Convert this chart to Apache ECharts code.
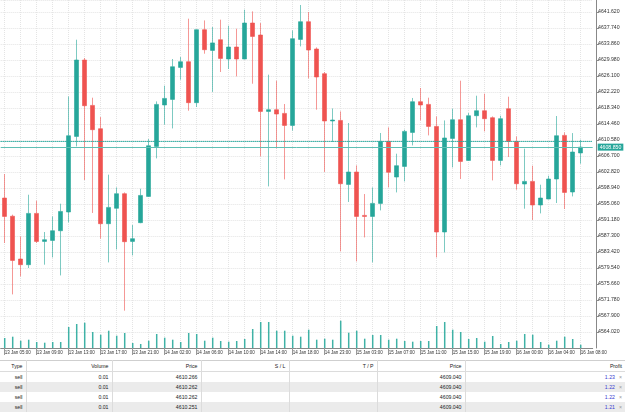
<!DOCTYPE html>
<html>
<head>
<meta charset="utf-8">
<script src="https://cdn.jsdelivr.net/npm/echarts@6/dist/echarts.min.js"></script>
<style>
body { margin: 0; background: #fff; font-family: 'Liberation Sans', Arial, sans-serif; }
#test0 { width: 625px; height: 360px; }
table { border-collapse: collapse; width: 625px; table-layout: fixed; font-size: 5.2px; color: #222; border-top: 1px solid #cfcfcf; }
td, th { padding: 0 3px 0 0; text-align: right; font-weight: normal; white-space: nowrap; overflow: hidden; border-left: 1px solid #dcdcdc; }
th { height: 10px; border-bottom: 1px solid #dcdcdc; }
td { height: 10px; }
td:first-child, th:first-child { border-left: none; }
tr.alt td { background: #ebebeb; }
.pf { color: #3b3bd0; }
.x { color: #999; margin-left: 4px; }
</style>
</head>
<body>
<div id="test0"></div>
<table id="orders"></table>
<script>
// 时间段: [日期, 开始小时, 结束小时]
var segments = [['13 Jan', 5, 23], ['14 Jan', 1, 21], ['14 Jan', 23, 23], ['15 Jan', 0, 22], ['16 Jan', 0, 8]];
var times = [];
segments.forEach(function (s) {
    for (var h = s[1]; h <= s[2]; h++) times.push(s[0] + ' ' + (h < 10 ? '0' : '') + h + ':00');
});

var open = [4596.51, 4592.10, 4581.72, 4580.34, 4592.78, 4585.99, 4586.23, 4588.58, 4593.12, 4611.45,
    4629.98, 4618.97, 4613.32, 4590.28, 4594.02, 4597.56, 4585.99, 4590.53, 4596.90, 4609.03,
    4619.07, 4620.43, 4628.19, 4629.57, 4619.63, 4637.33, 4632.31, 4634.90, 4630.22, 4633.13,
    4630.22, 4638.95, 4636.04, 4617.51, 4617.93, 4617.03, 4614.12, 4634.98, 4639.27, 4632.65,
    4626.66, 4615.19, 4615.33, 4599.81, 4602.82, 4592.30, 4592.05, 4595.21, 4610.24, 4601.60,
    4604.18, 4612.42, 4619.87, 4619.21, 4613.88, 4588.27, 4610.97, 4615.50, 4605.63, 4616.47,
    4617.68, 4615.99, 4605.63, 4618.17, 4610.24, 4599.91, 4600.54, 4594.82, 4596.27, 4601.12,
    4611.70, 4597.97, 4607.43];
var close = [4592.05, 4581.38, 4580.34, 4592.78, 4585.99, 4586.40, 4588.58, 4593.26, 4611.62, 4629.98,
    4618.90, 4613.08, 4590.28, 4594.24, 4597.56, 4585.92, 4586.65, 4597.14, 4609.19, 4619.21,
    4620.67, 4628.35, 4629.57, 4619.63, 4637.33, 4632.48, 4634.13, 4630.37, 4633.13, 4630.22,
    4638.95, 4635.70, 4617.51, 4617.93, 4616.88, 4614.12, 4635.15, 4639.27, 4632.40, 4625.86,
    4615.19, 4615.43, 4599.98, 4602.82, 4592.05, 4592.05, 4595.21, 4610.24, 4602.75, 4604.35,
    4612.67, 4619.87, 4619.07, 4613.88, 4588.27, 4611.07, 4615.50, 4605.39, 4616.47, 4617.68,
    4615.75, 4605.63, 4615.75, 4610.24, 4599.98, 4600.54, 4594.82, 4596.51, 4601.12, 4611.62,
    4597.87, 4607.67, 4608.85];
var low = [4585.60, 4573.14, 4577.50, 4579.54, 4585.60, 4580.34, 4582.11, 4577.74, 4590.60, 4609.03,
    4600.88, 4592.88, 4586.65, 4580.90, 4584.05, 4569.19, 4582.60, 4590.40, 4596.80, 4606.12,
    4614.29, 4613.39, 4625.20, 4617.68, 4618.58, 4631.51, 4622.23, 4627.07, 4627.80, 4626.00,
    4630.15, 4624.23, 4606.60, 4599.33, 4608.54, 4601.03, 4612.84, 4633.28, 4625.52, 4617.93,
    4602.82, 4610.09, 4583.57, 4595.55, 4581.14, 4586.96, 4580.90, 4593.51, 4599.08, 4597.87,
    4600.54, 4609.27, 4615.33, 4611.70, 4582.11, 4583.32, 4603.94, 4601.12, 4605.55, 4613.64,
    4612.67, 4600.78, 4604.42, 4606.46, 4598.53, 4593.92, 4591.18, 4592.78, 4596.20, 4595.30,
    4593.85, 4596.90, 4604.83];
var high = [4602.33, 4592.47, 4587.20, 4597.31, 4595.86, 4588.27, 4592.05, 4595.13, 4621.15, 4634.90,
    4630.46, 4620.84, 4616.15, 4602.17, 4599.08, 4597.87, 4589.97, 4598.77, 4610.82, 4619.94,
    4623.75, 4630.22, 4630.71, 4640.00, 4637.40, 4639.58, 4637.98, 4639.75, 4638.30, 4637.57,
    4642.18, 4641.77, 4638.95, 4626.42, 4624.96, 4619.31, 4637.16, 4643.32, 4641.62, 4633.04,
    4627.07, 4618.24, 4617.51, 4614.70, 4604.42, 4597.48, 4599.08, 4612.28, 4613.64, 4607.26,
    4613.08, 4620.77, 4623.19, 4620.84, 4616.30, 4615.33, 4618.17, 4624.96, 4617.13, 4621.32,
    4621.81, 4616.30, 4616.47, 4621.08, 4611.45, 4608.47, 4604.35, 4599.74, 4601.92, 4616.40,
    4612.42, 4612.26, 4610.65];
var volume = [450, 509, 329, 374, 270, 239, 270, 270, 945, 1080,
    1139, 720, 599, 779, 554, 675, 225, 180, 329, 630,
    464, 374, 270, 675, 630, 329, 464, 315, 284, 315,
    405, 855, 1170, 1170, 779, 779, 554, 509, 824, 374,
    419, 374, 1229, 689, 779, 419, 585, 585, 374, 419,
    315, 284, 315, 315, 990, 1170, 824, 720, 405, 450,
    284, 540, 180, 270, 329, 630, 599, 270, 149, 329,
    509, 405, 149];

var priceTicks = [4564.02, 4567.90, 4571.78, 4575.66, 4579.54, 4583.42, 4587.30, 4591.18, 4595.06, 4598.94,
    4602.82, 4606.70, 4610.58, 4614.46, 4618.34, 4622.22, 4626.10, 4629.98, 4633.86, 4637.74, 4641.62];
var bid = 4608.85;

// 订单
var posType = ['sell', 'sell', 'sell', 'sell'];
var posVolume = ['0.01', '0.01', '0.01', '0.01'];
var posOpen = [4610.266, 4610.262, 4610.262, 4610.251];
var posCurrent = [4609.040, 4609.040, 4609.040, 4609.040];
var posProfit = [1.23, 1.22, 1.22, 1.21];

var step = priceTicks[1] - priceTicks[0];
var yMin = priceTicks[0] - step;
var yMax = yMin + step * 21.75;

var mytest = echarts.init(document.getElementById('test0'));
var xData = times.concat(['']);
var candleData = open.map(function (o, i) { return [o, close[i], low[i], high[i]]; });

var markData = [{
    yAxis: bid,
    lineStyle: { color: '#5fbfb4', type: 'solid', width: 1 },
    label: {
        show: true, position: 'end', distance: 5, formatter: bid.toFixed(3),
        backgroundColor: '#26a69a', color: '#fff', fontSize: 5.2, padding: [1, 2, 1, 2]
    }
}].concat(posOpen.map(function (p) {
    return { yAxis: p, lineStyle: { color: 'rgba(38,166,154,0.55)', type: 'dotted', width: 1 }, label: { show: false } };
}));

var option = {
    animation: false,
    textStyle: { fontFamily: 'Liberation Sans' },
    grid: [
        { left: 0.7, top: 0, width: 592, height: 348 },
        { left: 0.7, top: 318, width: 592, height: 30 }
    ],
    xAxis: [{
        type: 'category',
        gridIndex: 0,
        data: xData,
        axisLine: { show: true, lineStyle: { color: '#888' } },
        axisTick: { show: true, alignWithLabel: true, interval: 3, length: 7, lineStyle: { color: '#999' } },
        axisLabel: { interval: 3, align: 'left', fontSize: 4.5, color: '#333', margin: 2.5 },
        splitLine: { show: true, interval: 1, alignWithLabel: true, lineStyle: { color: '#e4e4e4', type: 'dotted' } }
    }, {
        type: 'category',
        gridIndex: 1,
        data: xData,
        show: false
    }],
    yAxis: [{
        type: 'value',
        gridIndex: 0,
        position: 'right',
        offset: 3.3,
        min: yMin,
        max: yMax,
        interval: step,
        axisLine: { show: true, lineStyle: { color: '#888' } },
        axisTick: { show: true, length: 3, lineStyle: { color: '#888' } },
        axisLabel: {
            fontSize: 5.2, color: '#333', margin: 2, showMinLabel: false, showMaxLabel: false,
            formatter: function (v) { return v.toFixed(3); }
        },
        splitLine: { show: true, lineStyle: { color: '#e4e4e4', type: 'dotted' } }
    }, {
        type: 'value',
        gridIndex: 1,
        min: 0,
        max: 1350,
        show: false
    }],
    series: [{
        name: 'XAUUSD',
        type: 'candlestick',
        xAxisIndex: 0,
        yAxisIndex: 0,
        barWidth: 5,
        data: candleData,
        itemStyle: {
            color: '#26a69a',
            color0: '#ef5350',
            borderColor: 'rgba(38,166,154,0.6)',
            borderColor0: 'rgba(239,83,80,0.6)',
            borderWidth: 1
        },
        markLine: { symbol: 'none', silent: true, animation: false, data: markData }
    }, {
        name: 'Volume',
        type: 'bar',
        xAxisIndex: 1,
        yAxisIndex: 1,
        barWidth: 1.5,
        data: volume,
        itemStyle: { color: '#3fb2a6' }
    }]
};
mytest.setOption(option);

// 订单表
var table = document.getElementById('orders');
var head = ['Type', 'Volume', 'Price', 'S / L', 'T / P', 'Price', 'Profit'];
var widths = [26, 86, 89, 88, 88, 88, 160];
var html = '<colgroup>' + widths.map(function (w) { return '<col style="width:' + w + 'px">'; }).join('') + '</colgroup>';
html += '<tr>' + head.map(function (h) { return '<th>' + h + '</th>'; }).join('') + '</tr>';
posType.forEach(function (t, i) {
    html += '<tr' + (i % 2 ? ' class="alt"' : '') + '>' +
        '<td>' + t + '</td>' +
        '<td>' + posVolume[i] + '</td>' +
        '<td>' + posOpen[i].toFixed(3) + '</td>' +
        '<td></td><td></td>' +
        '<td>' + posCurrent[i].toFixed(3) + '</td>' +
        '<td><span class="pf">' + posProfit[i].toFixed(2) + '</span><span class="x">×</span></td></tr>';
});
table.innerHTML = html;
</script>
</body>
</html>
